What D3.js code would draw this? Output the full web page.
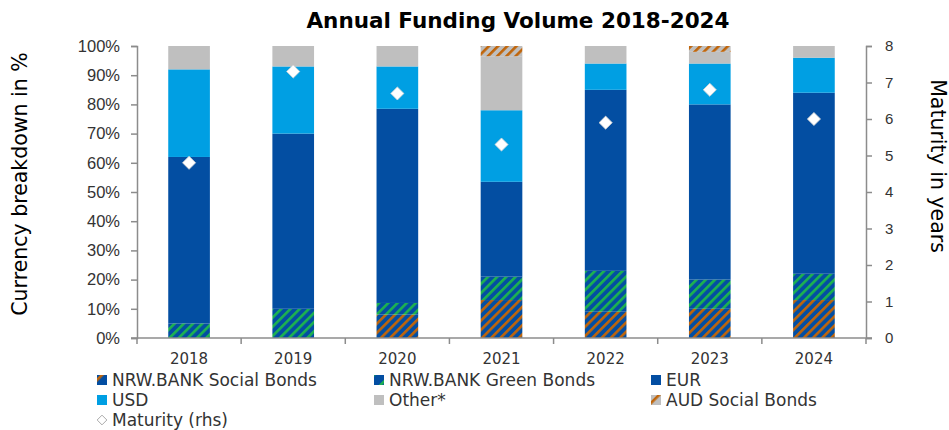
<!DOCTYPE html>
<html>
<head>
    <title>Annual Funding Volume</title>
    <meta charset="utf-8">
    <script src="https://d3js.org/d3.v7.min.js"></script>
    <style>
        body { margin: 0; background: #fff; }
        svg { font-family: "DejaVu Sans", sans-serif; }
        .axis path, .axis line { stroke: #8c8c8c; stroke-width: 1.5px; }
        .axis text { fill: #333; font-size: 15px; }
        .axis.left text { font-size: 16.5px; }
    </style>
</head>
<body>
<svg id="chart" width="949" height="430"></svg>
<script>
// data
var years    = ["2018", "2019", "2020", "2021", "2022", "2023", "2024"];
var social   = [0, 0, 8, 13, 9, 10, 13];
var green    = [5, 10, 4, 8, 14, 10, 9];
var eur      = [57, 60, 66.5, 32.5, 62, 60, 62];
var usd      = [30, 23, 14.5, 24.5, 9, 14, 12];
var other    = [8, 7, 7, 18.5, 6, 4, 4];
var aud      = [0, 0, 0, 3.5, 0, 2, 0];
var maturity = [4.8, 7.3, 6.7, 5.3, 5.9, 6.8, 6.0];
var seriesNames = ["NRW.BANK Social Bonds", "NRW.BANK Green Bonds", "EUR", "USD", "Other*", "AUD Social Bonds"];
var pctTicks = [0, 10, 20, 30, 40, 50, 60, 70, 80, 90, 100];
var yrTicks  = [0, 1, 2, 3, 4, 5, 6, 7, 8];

var svg = d3.select("#chart");
var mLeft = 137, mRight = 866, mTop = 46, mBottom = 338;

// paddingInner 0.6 + paddingOuter 0.3 -> step = width / 7, so boundaries fall on mLeft + i*step
var x = d3.scaleBand().domain(years).range([mLeft, mRight]).paddingInner(0.6).paddingOuter(0.3);
var y = d3.scaleLinear().domain([0, 100]).range([mBottom, mTop]);
var y2 = d3.scaleLinear().domain([0, 8]).range([mBottom, mTop]);

// hatch patterns
var defs = svg.append("defs");
function hatch(id, bg, fg, s) {
    var p = defs.append("pattern").attr("id", id)
        .attr("patternUnits", "userSpaceOnUse")
        .attr("width", s).attr("height", s)
        .attr("patternTransform", "rotate(45)");
    p.append("rect").attr("width", s).attr("height", s).attr("fill", bg);
    p.append("rect").attr("x", 0).attr("width", 2.6).attr("height", s).attr("fill", fg);
}
hatch("hSocial", "#034ea2", "#c0650a", 6.5);
hatch("hGreen", "#034ea2", "#1db34f", 6.5);
hatch("hAud", "#bfbfbf", "#c0650a", 6.5);
hatch("hSocialL", "#034ea2", "#c0650a", 12);
hatch("hGreenL", "#034ea2", "#1db34f", 12);
hatch("hAudL", "#bfbfbf", "#c0650a", 12);

var fills = ["url(#hSocial)", "url(#hGreen)", "#034ea2", "#009fe3", "#bfbfbf", "url(#hAud)"];
var legendFills = ["url(#hSocialL)", "url(#hGreenL)", "#034ea2", "#009fe3", "#bfbfbf", "url(#hAudL)"];

// stacked data
var rows = years.map(function (yr, i) {
    return { year: yr, s0: social[i], s1: green[i], s2: eur[i], s3: usd[i], s4: other[i], s5: aud[i] };
});
var stack = d3.stack().keys(["s0", "s1", "s2", "s3", "s4", "s5"]);
var layers = stack(rows);

svg.append("g").selectAll("g")
    .data(layers)
    .enter().append("g")
    .attr("fill", function (d, i) { return fills[i]; })
    .selectAll("rect")
    .data(function (d) { return d; })
    .enter().append("rect")
    .attr("x", function (d) { return x(d.data.year); })
    .attr("width", x.bandwidth())
    .attr("y", function (d) { return y(d[1]); })
    .attr("height", function (d) { return y(d[0]) - y(d[1]); });

// axes
svg.append("g").attr("class", "axis left")
    .attr("transform", "translate(" + mLeft + ",0)")
    .call(d3.axisLeft(y).tickValues(pctTicks).tickSize(6).tickPadding(11)
        .tickFormat(function (d) { return d + "%"; }));

svg.append("g").attr("class", "axis")
    .attr("transform", "translate(" + mRight + ",0)")
    .call(d3.axisRight(y2).tickValues(yrTicks).tickSize(6).tickPadding(13));

var xAxis = svg.append("g").attr("class", "axis")
    .attr("transform", "translate(0," + mBottom + ")");
xAxis.append("line").attr("x1", mLeft - 6).attr("x2", mRight + 6).attr("y1", 0).attr("y2", 0);
var step = x.step();
d3.range(years.length + 1).forEach(function (i) {
    xAxis.append("line").attr("x1", mLeft + i * step).attr("x2", mLeft + i * step)
        .attr("y1", 0).attr("y2", 6);
});
xAxis.selectAll("text.yr").data(years).enter().append("text")
    .attr("x", function (d) { return x(d) + x.bandwidth() / 2; })
    .attr("y", 26).attr("text-anchor", "middle").text(function (d) { return d; });

// maturity diamonds
svg.append("g").selectAll("path")
    .data(maturity)
    .enter().append("path")
    .attr("d", d3.symbol().type(d3.symbolDiamond2).size(110))
    .attr("transform", function (d, i) {
        return "translate(" + (x(years[i]) + x.bandwidth() / 2) + "," + y2(d) + ")";
    })
    .attr("fill", "#fff").attr("stroke", "#d0d0d0").attr("stroke-width", 0.8);

// titles
svg.append("text").attr("x", 518).attr("y", 28).attr("text-anchor", "middle")
    .attr("font-size", 21.5).attr("font-weight", "bold").attr("fill", "#000")
    .text("Annual Funding Volume 2018-2024");
svg.append("text").attr("transform", "translate(27,184) rotate(-90)")
    .attr("text-anchor", "middle").attr("font-size", 20.5).attr("fill", "#000")
    .text("Currency breakdown in %");
svg.append("text").attr("transform", "translate(931,166) rotate(90)")
    .attr("text-anchor", "middle").attr("font-size", 20.5).attr("fill", "#000")
    .text("Maturity in years");

// legend
var legX = [97, 374, 651];
var legY = [380, 400, 420];
var lg = svg.append("g");
seriesNames.forEach(function (name, i) {
    var cx = legX[i % 3], cy = legY[Math.floor(i / 3)];
    lg.append("rect").attr("x", cx).attr("y", cy - 5).attr("width", 10).attr("height", 10)
        .attr("fill", legendFills[i]);
    lg.append("text").attr("x", cx + 15).attr("y", cy + 6).attr("font-size", 17)
        .attr("fill", "#333").text(name);
});
lg.append("path").attr("d", d3.symbol().type(d3.symbolDiamond2).size(60))
    .attr("transform", "translate(" + (legX[0] + 5) + "," + legY[2] + ")")
    .attr("fill", "#fff").attr("stroke", "#aaa");
lg.append("text").attr("x", legX[0] + 15).attr("y", legY[2] + 6).attr("font-size", 17)
    .attr("fill", "#333").text("Maturity (rhs)");
</script>
</body>
</html>
